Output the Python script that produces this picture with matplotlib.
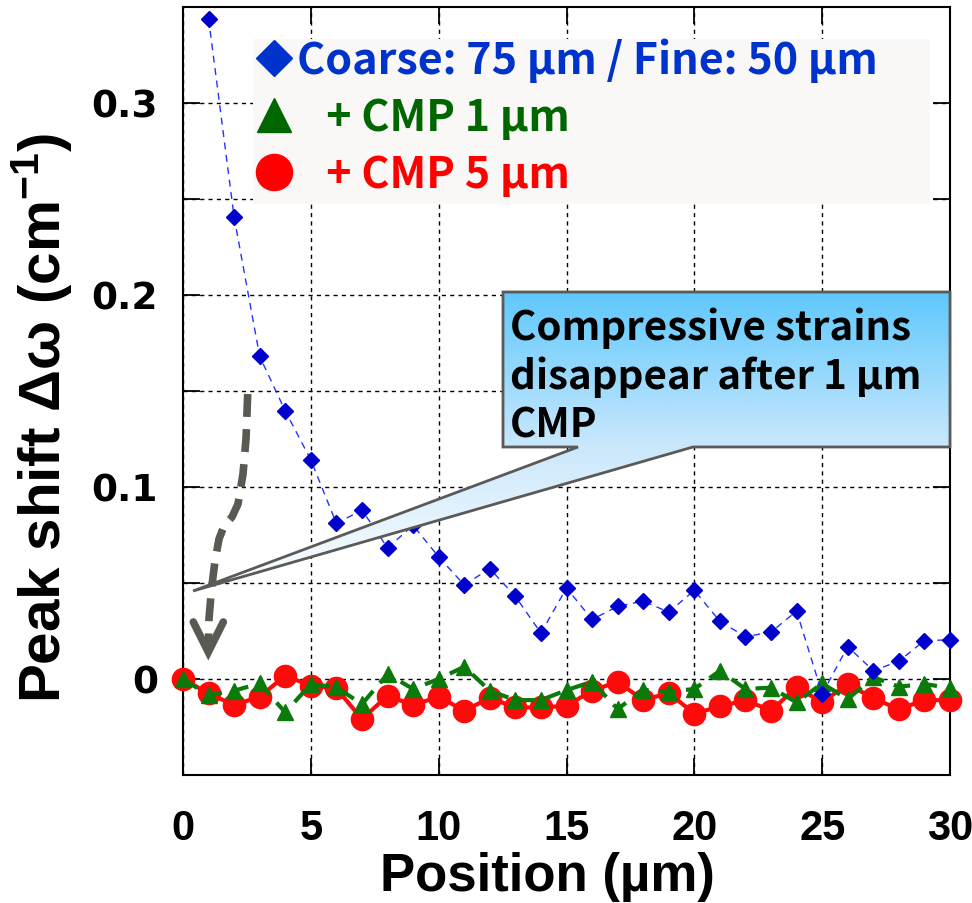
import matplotlib
matplotlib.use('Agg')
import matplotlib.pyplot as plt
import numpy as np
from matplotlib.lines import Line2D
from matplotlib.patches import Polygon, Rectangle
from matplotlib.colors import LinearSegmentedColormap
from matplotlib.ticker import FixedLocator
from matplotlib import font_manager

plt.rcParams['mathtext.default'] = 'regular'

names = {f.name for f in font_manager.fontManager.ttflist}
LEG_FONT = 'Liberation Sans'
for cand in ['Noto Sans CJK KR', 'Noto Sans CJK JP', 'Noto Sans CJK SC', 'Noto Sans CJK TC']:
    if cand in names:
        LEG_FONT = cand
        break

# ---------------- data ----------------
position = list(range(31))
coarse_pos = list(range(1, 31))
coarse = [0.344, 0.2405, 0.168, 0.1396, 0.1141, 0.081, 0.088, 0.0683, 0.080, 0.0636,
          0.049, 0.0575, 0.043, 0.0239, 0.0474, 0.031, 0.0378, 0.0406, 0.0348, 0.0462,
          0.030, 0.0221, 0.0244, 0.0354, -0.0078, 0.0169, 0.0043, 0.0093, 0.020, 0.0204]
cmp1 = [0.0, -0.0084, -0.0061, -0.0023, -0.0174, -0.0026, -0.0043, -0.0131, 0.0026, -0.0052,
        0.0, 0.0064, -0.0061, -0.011, -0.011, -0.0058, -0.0014, -0.0157, -0.0056, -0.0066,
        -0.0052, 0.0043, -0.0052, -0.0045, -0.0122, -0.0023, -0.0105, 0.0009, -0.004, -0.0026,
        -0.0047]
cmp5 = [0.0, -0.0075, -0.0136, -0.0092, 0.0017, -0.0035, -0.0049, -0.0209, -0.0087, -0.0136,
        -0.0092, -0.0165, -0.0099, -0.0148, -0.0148, -0.014, -0.0061, -0.0014, -0.011, -0.0073,
        -0.018, -0.0143, -0.011, -0.0165, -0.0043, -0.0122, -0.0026, -0.0101, -0.0157, -0.011,
        -0.011]
x_ticks = [0, 5, 10, 15, 20, 25, 30]
y_ticks = [0, 0.1, 0.2, 0.3]
y_tick_labels = ['0', '0.1', '0.2', '0.3']
y_minor = [-0.05, 0.05, 0.15, 0.25]
series_labels = ['Coarse: 75 µm / Fine: 50 µm', '   + CMP 1 µm', '   + CMP 5 µm']
note_text = 'Compressive strains\ndisappear after 1 µm\nCMP'

# ---------------- figure ----------------
fig = plt.figure(figsize=(9.72, 9.04), dpi=100)
ax = fig.add_axes([183 / 972, 1 - 776 / 904, 767 / 972, 768 / 904])

BLUE_M, BLUE_L = '#0000cc', '#2233ff'
GREEN = '#0a7a0a'
RED = '#ff0a0a'

ax.plot(position, cmp5, color=RED, lw=3, marker='o', ms=16, mec=RED, zorder=4, clip_on=False)
ax.plot(position, cmp1, color=GREEN, lw=3, ls=(0, (4, 2.5)), marker='^', ms=12,
        mec=GREEN, zorder=5, clip_on=False)
ax.plot(coarse_pos, coarse, color=BLUE_L, lw=1, ls=(0, (5, 4)), marker='D', ms=8,
        mfc=BLUE_M, mec=BLUE_M, zorder=6, clip_on=False)

ax.set_xlim(0, 30)
ax.set_ylim(-0.05, 0.35)
ax.set_xticks(x_ticks)
ax.set_yticks(y_ticks)
ax.set_yticklabels(y_tick_labels)
ax.yaxis.set_minor_locator(FixedLocator(y_minor))
ax.grid(which='both', ls=(0, (3, 3)), color='black', lw=1, zorder=0)
ax.tick_params(which='both', direction='in', top=True, right=True, length=12, width=1.3)
ax.tick_params(axis='y', pad=18)
ax.tick_params(axis='x', pad=24)
for lab in ax.get_yticklabels():
    lab.set_fontfamily('DejaVu Sans')
    lab.set_fontweight('bold')
    lab.set_fontsize(27)
for lab in ax.get_xticklabels():
    lab.set_fontfamily('Liberation Sans')
    lab.set_fontweight('bold')
    lab.set_fontsize(30)
for s in ax.spines.values():
    s.set_linewidth(1.5)

ax.set_xlabel('Position (µm)', fontsize=38, fontweight='bold', family='Liberation Sans',
              va='center')
ax.xaxis.set_label_coords(0.475, -0.132)
ax.set_ylabel('Peak shift Δω (cm$^{-1}$)', fontsize=42, fontweight='bold',
              family='Liberation Sans', va='center')
ax.yaxis.set_label_coords(-0.184, 0.467)

# ---------------- legend ----------------
ax.add_patch(Rectangle((0.091, 0.743), 0.883, 0.215, transform=ax.transAxes,
                       facecolor='#f9f8f6', edgecolor='none', zorder=7.5))
handles = [
    Line2D([], [], ls='none', marker='D', ms=18.5, color='#0033cc'),
    Line2D([], [], ls='none', marker='^', ms=24, color='#006600'),
    Line2D([], [], ls='none', marker='o', ms=26, color='#ff0000'),
]
leg = ax.legend(handles, series_labels, loc='upper left',
                bbox_to_anchor=(0.091, 0.966),
                prop={'family': LEG_FONT, 'weight': 'bold', 'size': 31},
                handlelength=0.8, handletextpad=0.12, labelspacing=0.3,
                borderpad=0.1, borderaxespad=0, frameon=False)
leg.set_zorder(8)
for t, c in zip(leg.get_texts(), ['#0033cc', '#006600', '#ff0000']):
    t.set_color(c)

# ---------------- callout ----------------
def px2d(px, py):
    return ((px - 183) / 767 * 30, 0.35 - (py - 8) / 768 * 0.40)

box_l, box_t = px2d(503, 293)
box_r, box_b = px2d(950, 448)
w1x, _ = px2d(578, 448)
w2x, _ = px2d(693, 448)
tipx, tipy = px2d(193, 592)
verts = [(box_l, box_t), (box_r, box_t), (box_r, box_b), (w2x, box_b),
         (tipx, tipy), (w1x, box_b), (box_l, box_b)]
poly = Polygon(verts, closed=True, facecolor='none', edgecolor='#5a5a58', lw=2,
               zorder=10, clip_on=False)
ax.add_patch(poly)
cmap = LinearSegmentedColormap.from_list('g', [(0, '#5ec8fd'), (0.52, '#cbe8fc'), (1, '#ffffff')])
grad = np.linspace(0, 1, 256).reshape(-1, 1)
im = ax.imshow(grad, extent=[tipx, box_r, tipy, box_t], origin='upper', aspect='auto',
               cmap=cmap, zorder=9, clip_on=True)
im.set_clip_path(poly)
tx, ty = px2d(510, 377)
ax.text(tx, ty, note_text, fontsize=29, fontweight='bold', family=LEG_FONT,
        ha='left', va='center', linespacing=1.24, zorder=11, color='black')

# ---------------- dashed curved arrow ----------------
arrow_px = [(247.7, 395), (246, 440), (243, 475), (238, 505), (232, 518),
            (224, 527), (219, 540), (215, 562), (211.5, 590), (209, 620),
            (208.3, 648)]
ap = [px2d(*p) for p in arrow_px]
ax.plot([p[0] for p in ap], [p[1] for p in ap], color='#5a5a52', lw=5.5,
        ls=(0, (3, 1.6)), solid_capstyle='butt', dash_capstyle='butt',
        dash_joinstyle='round', zorder=7)
head = [px2d(193.3, 623), px2d(208.3, 653), px2d(223.3, 623)]
ax.plot([p[0] for p in head], [p[1] for p in head], color='#5a5a52', lw=5.5,
        solid_joinstyle='miter', solid_capstyle='round', zorder=7)

ax.set_xlim(0, 30)
ax.set_ylim(-0.05, 0.35)

fig.savefig('out.png', dpi=100)
